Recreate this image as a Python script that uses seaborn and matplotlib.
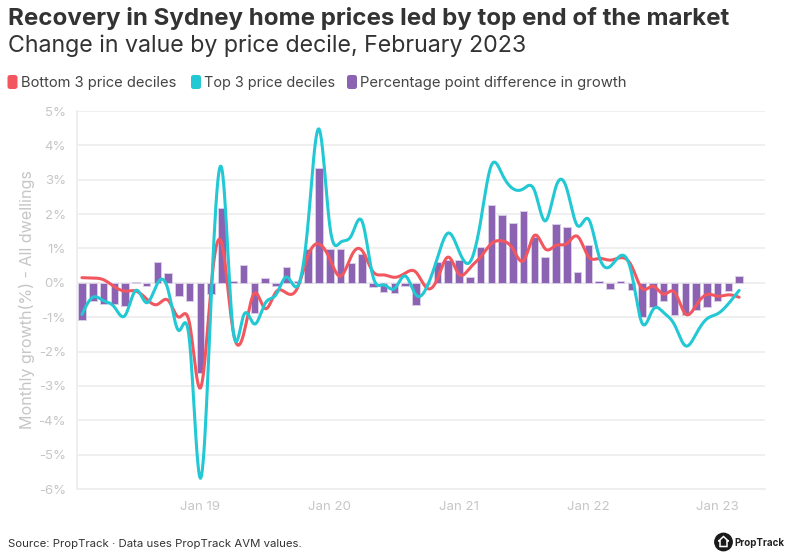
import numpy as np
import pandas as pd
import matplotlib
matplotlib.use('Agg')
import matplotlib.pyplot as plt
from matplotlib.patches import Circle, FancyBboxPatch, Polygon
import seaborn as sns

# monthly readings, Feb 18 onwards
bottom3 = [0.15, 0.14, 0.09, -0.11, -0.24, -0.24, -0.47, -0.63, -0.51, -1.00, -1.20, -3.06,
           -0.08, 1.12, -1.35, -1.50, -0.30, -0.75, -0.27, -0.30, -0.15, 0.80, 1.13, 0.70,
           0.19, 0.78, 0.94, 0.33, 0.23, 0.16, 0.28, 0.31, -0.15, 0.12, 0.75, 0.25,
           0.43, 0.75, 1.14, 1.22, 0.99, 0.65, 1.38, 0.99, 1.09, 1.14, 1.35, 0.77,
           0.71, 0.66, 0.73, 0.50, -0.17, -0.10, -0.33, -0.27, -0.90, -0.66, -0.34, -0.39,
           -0.35, -0.42]
top3 = [-0.92, -0.42, -0.52, -0.70, -0.95, -0.22, -0.58, -0.02, -0.21, -1.39, -1.74, -5.69,
        -0.42, 3.30, -1.30, -0.95, -1.20, -0.60, -0.35, 0.17, -0.10, 1.77, 4.48, 1.67,
        1.18, 1.37, 1.79, 0.20, -0.06, -0.17, 0.20, -0.35, -0.13, 0.73, 1.45, 0.92,
        0.60, 1.78, 3.42, 3.16, 2.74, 2.74, 2.69, 1.80, 2.80, 2.74, 1.66, 1.86,
        0.77, 0.47, 0.79, 0.30, -1.18, -0.78, -0.87, -1.22, -1.83, -1.49, -1.05, -0.90,
        -0.61, -0.22]
difference = [-1.08, -0.54, -0.62, -0.62, -0.68, 0.03, -0.10, 0.61, 0.30, -0.39, -0.54, -2.61,
              -0.32, 2.17, 0.05, 0.51, -0.88, 0.15, -0.08, 0.47, 0.05, 0.97, 3.35, 0.97,
              0.97, 0.59, 0.85, -0.13, -0.27, -0.30, -0.08, -0.65, -0.02, 0.61, 0.67, 0.67,
              0.18, 1.03, 2.27, 1.96, 1.73, 2.09, 1.34, 0.76, 1.71, 1.63, 0.31, 1.09,
              0.06, -0.19, 0.06, -0.20, -1.00, -0.70, -0.52, -0.93, -0.94, -0.79, -0.70, -0.52,
              -0.25, 0.20]
year_ticks = [11, 23, 35, 47, 59]
year_labels = ['Jan 19', 'Jan 20', 'Jan 21', 'Jan 22', 'Jan 23']
pct_ticks = [5, 4, 3, 2, 1, 0, -1, -2, -3, -4, -5, -6]

RED = '#f2575f'
TEAL = '#22c8d3'
PURPLE = '#8c62b3'
LIGHT = '#c6c6c6'
DARK = '#333333'
W, H = 794, 559


def spline(y, per=12):
    # natural cubic spline, the chart's lines are drawn smoothed
    y = np.asarray(y, dtype=float)
    n = len(y)
    A = np.zeros((n, n))
    b = np.zeros(n)
    A[0, 0] = A[-1, -1] = 1
    for i in range(1, n - 1):
        A[i, i - 1:i + 2] = [1, 4, 1]
        b[i] = 6 * (y[i - 1] - 2 * y[i] + y[i + 1])
    m = np.linalg.solve(A, b)
    xs = np.linspace(0, n - 1, (n - 1) * per + 1)
    k = np.minimum(xs.astype(int), n - 2)
    t = xs - k
    ys = (1 - t) * y[k] + t * y[k + 1] + ((1 - t) ** 3 - (1 - t)) * m[k] / 6 + (t ** 3 - t) * m[k + 1] / 6
    return xs, ys


sns.set_style('white')
plt.rcParams['font.family'] = ['Inter', 'DejaVu Sans']

fig = plt.figure(figsize=(W / 100, H / 100), dpi=100)
ax = fig.add_axes([77 / W, 1 - 489 / H, (765 - 77) / W, (489 - 111) / H])

df = pd.DataFrame({'month': np.arange(len(difference)), 'difference': difference})
sns.barplot(data=df, x='month', y='difference', color=PURPLE, saturation=1, width=0.7,
            native_scale=True, edgecolor='#d8cce6', linewidth=0.7, ax=ax, zorder=2)

for values, colour in [(bottom3, RED), (top3, TEAL)]:
    xs, ys = spline(values)
    sns.lineplot(x=xs, y=ys, color=colour, linewidth=2.2, estimator=None, ax=ax, zorder=3)

ax.set_xlim(-0.46, 63.4)
ax.set_ylim(-6, 5)
ax.set_xticks(year_ticks, year_labels)
ax.set_yticks(pct_ticks, ['%d%%' % p for p in pct_ticks])
ax.set_xlabel('')
ax.set_ylabel('Monthly growth(%) - All dwellings', fontsize=11.6, color=LIGHT, labelpad=2.5)
ax.tick_params(axis='both', colors='#eeeeee', length=7, width=1.3, labelcolor=LIGHT, labelsize=9.5)
ax.tick_params(axis='y', pad=1)
ax.tick_params(axis='x', pad=2)
ax.grid(axis='y', color='#eeeeee', linewidth=1.3)
ax.set_axisbelow(True)
for side in ['top', 'right']:
    ax.spines[side].set_visible(False)
for side in ['left', 'bottom']:
    ax.spines[side].set_color('#eeeeee')
    ax.spines[side].set_linewidth(1.3)

# overlay in pixel coords for the header, legend and logo
over = fig.add_axes([0, 0, 1, 1], facecolor='none')
over.set_xlim(0, W)
over.set_ylim(H, 0)
over.axis('off')

over.text(8, 19, 'Recovery in Sydney home prices led by top end of the market',
          fontsize=17.35, fontweight='bold', color=DARK, va='center')
over.text(8, 46, 'Change in value by price decile, February 2023',
          fontsize=16.7, color=DARK, va='center')

legend_names = ['Bottom 3 price deciles', 'Top 3 price deciles', 'Percentage point difference in growth']
for name, colour, left, size in zip(legend_names, [RED, TEAL, PURPLE], [7.5, 191, 347], [10.6, 10.4, 10.7]):
    over.add_patch(FancyBboxPatch((left + 2, 77), 6, 10, boxstyle='round,pad=2,rounding_size=2.5',
                                  facecolor=colour, edgecolor='none'))
    over.text(left + 13.5, 82.5, name, fontsize=size, color='#444444', va='center')

over.text(8, 544, 'Source: PropTrack \u00b7 Data uses PropTrack AVM values.',
          fontsize=8.2, color=DARK, va='center')

over.add_patch(Circle((723.5, 542), 8.7, color='#1a1a1a'))
over.add_patch(Polygon([(723.5, 536.5), (728.5, 541.2), (727, 541.2), (727, 546.5), (720, 546.5),
                        (720, 541.2), (718.5, 541.2)], closed=True, facecolor='none',
                       edgecolor='white', linewidth=1.1))
over.text(734.5, 542.5, 'PropTrack', fontsize=7, fontweight='bold', color='#222222', va='center')

fig.savefig('out.png', dpi=100)
